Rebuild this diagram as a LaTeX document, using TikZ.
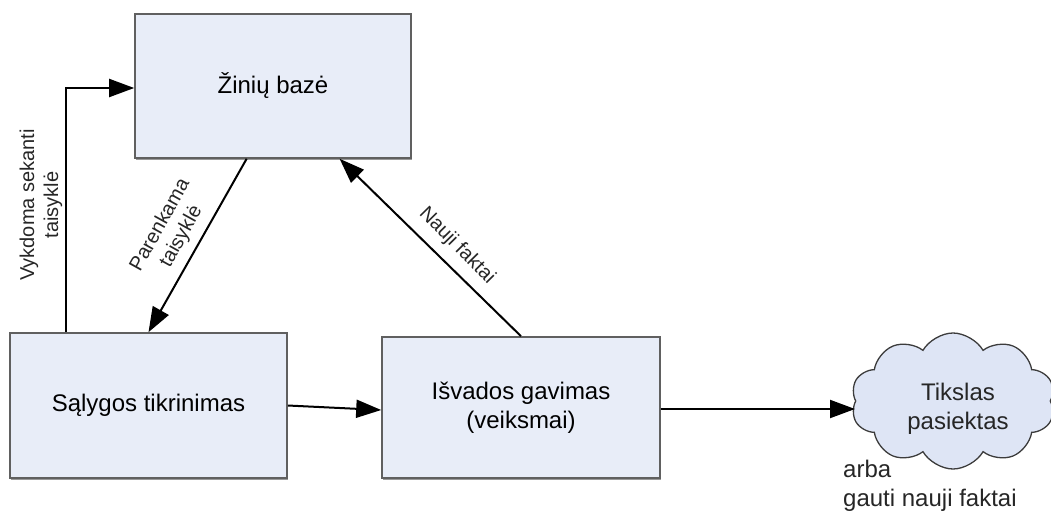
\documentclass[tikz,border=0pt]{standalone}
\usepackage{fontspec}
\setmainfont{Liberation Sans}
\usetikzlibrary{arrows.meta,shapes.symbols,shadows,calc}

\definecolor{boxfill}{RGB}{232,237,248}
\definecolor{cloudfill}{RGB}{222,229,245}
\definecolor{boxline}{RGB}{96,96,96}
\definecolor{cloudline}{RGB}{60,60,60}

\newcommand{\bigtext}{\fontsize{24}{29}\selectfont}
\newcommand{\smalltext}{\fontsize{20}{24}\selectfont}

\tikzset{
  box/.style={draw=boxline, line width=1.6pt, fill=boxfill, inner sep=0pt,
    align=center, font=\bigtext,
    drop shadow={shadow xshift=0.8pt, shadow yshift=-1.6pt, fill=gray!80, opacity=1}},
  goal/.style={cloud, cloud puffs=10, cloud puff arc=120, draw=cloudline,
    line width=1.3pt, fill=cloudfill, inner sep=0pt},
  flow/.style={draw=black, line width=2pt, -{Triangle[length=25pt,width=18pt]}},
  lbl/.style={font=\smalltext, align=center, inner sep=0pt, text=black!85},
}

\begin{document}
\begin{tikzpicture}[x=1pt, y=-1pt]
\useasboundingbox (0,0) rectangle (1051,511);

% knowledge base, condition check, conclusion
\node[box, minimum width=276pt, minimum height=144pt] (zb) at (273,86) {Žinių bazė};
\node[box, minimum width=277pt, minimum height=145pt] (st) at (148.5,405.5) {Sąlygos tikrinimas};
\node[box, minimum width=278pt, minimum height=141pt] (ig) at (521,407.5) {Išvados gavimas\\(veiksmai)};

% goal reached
\node[goal, minimum width=204pt, minimum height=136pt] (cl) at (953,401) {};
\node[lbl, font=\bigtext, text=black!85] (cltxt) at (958,409) {Tikslas\\pasiektas};
\node[lbl, font=\bigtext, align=left, anchor=north west] (alt) at (843,460) {arba\\gauti nauji faktai};

% loop back: execute next rule
\coordinate (vk) at (66,88);
\draw[flow] (st.north -| vk) |- (zb.west |- vk);
\node[lbl, rotate=90] (vklbl) at (41,205) {Vykdoma sekanti\\taisyklė};

% selecting a rule
\draw[flow] ($(zb.south west)!0.405!(zb.south east)$) -- (st.north);
\node[lbl, rotate=61] (palbl) at (171,231) {Parenkama\\taisyklė};

% new facts back to the knowledge base
\draw[flow] (ig.north) -- ($(zb.south west)!0.74!(zb.south east)$);
\node[lbl, rotate=-45.5] (nflbl) at (457,246) {Nauji faktai};

% condition -> conclusion -> goal
\draw[flow] (st.east) -- ($(ig.west)+(0,2.5)$);
\draw[flow] ($(ig.east)+(0,1.5)$) -- ($(cl.west |- ig.east)+(0,1.5)$);
\end{tikzpicture}
\end{document}
